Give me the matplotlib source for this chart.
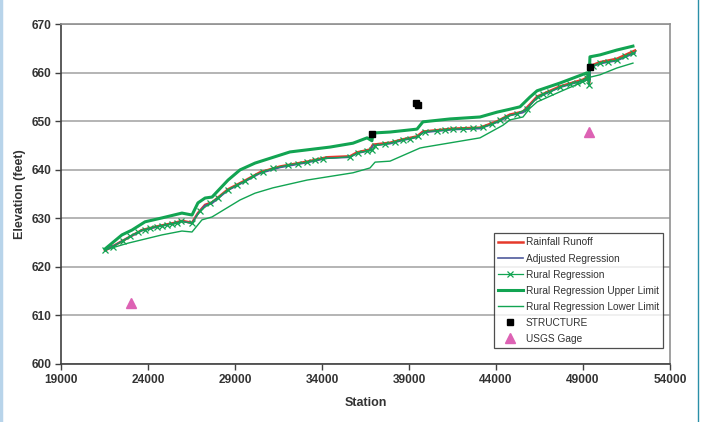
import matplotlib
matplotlib.use("Agg")
import matplotlib.pyplot as plt
from matplotlib.lines import Line2D

plt.rcParams['font.family'] = ['Liberation Sans', 'DejaVu Sans']

# ---- data ----
main_station = [21530, 22100, 22850, 23650, 24575, 25550, 25950, 26530, 26870, 27280,
                27680, 28600, 29575, 30440, 31590, 33140, 34290, 35610, 36010, 36760,
                36930, 37910, 38655, 39460, 39800, 41530, 43080, 44060, 44800, 45550,
                45950, 46360, 47680, 49000, 49290, 49350, 49400, 49980, 50950, 51990]
rainfall_elev = [623.4, 624.5, 626.0, 627.6, 628.4, 629.1, 629.5, 629.1, 631.1, 632.8,
                 633.3, 636.0, 637.8, 639.5, 640.7, 641.7, 642.6, 642.8, 643.6, 644.2,
                 645.2, 645.6, 646.3, 646.9, 647.9, 648.5, 648.7, 650.0, 651.4, 652.0,
                 653.5, 655.1, 657.2, 658.6, 659.2, 657.8, 661.4, 662.2, 662.9, 664.6]
adjusted_elev = [623.4, 624.5, 626.0, 627.5, 628.3, 629.0, 629.4, 629.0, 631.0, 632.7,
                 633.1, 635.8, 637.6, 639.3, 640.5, 641.5, 642.4, 642.6, 643.4, 644.0,
                 645.0, 645.4, 646.1, 646.7, 647.7, 648.3, 648.5, 649.8, 651.2, 651.8,
                 653.3, 654.9, 657.0, 658.4, 659.0, 657.6, 661.1, 661.9, 662.5, 664.1]

rural_station = [21530, 21990, 22560, 22970, 23430, 23830, 24110, 24520, 24800, 25090,
                 25380, 25670, 25900, 26530, 26990, 27560, 28020, 28600, 29110, 29575,
                 30030, 30610, 31180, 32050, 32620, 33140, 33600, 34060, 35610, 36070,
                 36590, 36870, 37050, 37620, 38200, 38655, 39060, 39520, 39920, 40610,
                 41070, 41530, 42100, 42680, 43250, 43770, 44230, 44630, 45210, 45780,
                 46410, 46700, 47100, 47680, 48250, 48650, 48940, 49230, 49350, 49400,
                 49570, 49980, 50440, 50950, 51410, 51870]
rural_elev = [623.4, 624.2, 625.4, 626.3, 627.2, 627.7, 628.0, 628.3, 628.5, 628.7,
              628.8, 629.0, 629.4, 629.0, 631.5, 633.1, 634.3, 635.9, 636.9, 637.7,
              638.7, 639.6, 640.3, 641.0, 641.3, 641.6, 642.0, 642.3, 642.7, 643.5,
              643.9, 644.0, 645.0, 645.3, 645.8, 646.2, 646.4, 646.9, 647.9, 648.1,
              648.2, 648.4, 648.5, 648.6, 648.8, 649.4, 650.3, 651.0, 651.6, 652.6,
              655.1, 655.6, 656.1, 657.1, 657.7, 658.0, 658.4, 659.0, 657.5, 661.2,
              661.4, 662.0, 662.3, 662.6, 663.4, 664.1]

upper_station = [21530, 22500, 23080, 23830, 24800, 25950, 26530, 26870, 27280, 27680,
                 28600, 29290, 30150, 32160, 34460, 35780, 36590, 36870, 36930, 37910,
                 39460, 39800, 41360, 43080, 44060, 44800, 45380, 45950, 46360, 47680,
                 49230, 49350, 49400, 49980, 50950, 51870]
upper_elev = [623.7, 626.6, 627.6, 629.3, 630.1, 631.1, 630.7, 633.2, 634.2, 634.4,
              637.9, 640.0, 641.4, 643.7, 644.7, 645.5, 646.6, 646.0, 647.6, 647.8,
              648.4, 649.9, 650.5, 650.9, 651.9, 652.5, 653.0, 655.0, 656.3, 657.9,
              660.0, 658.5, 663.3, 663.7, 664.7, 665.5]

lower_station = [21530, 22850, 24800, 25950, 26530, 27100, 27680, 29290, 30150, 31180,
                 33140, 35780, 36760, 37050, 37910, 39630, 39920, 43080, 44400, 44800,
                 45550, 45950, 46360, 47680, 49230, 49400, 49980, 50950, 51870]
lower_elev = [623.5, 624.9, 626.6, 627.4, 627.2, 629.7, 630.3, 633.8, 635.2, 636.3,
              637.9, 639.4, 640.4, 641.6, 641.8, 644.5, 644.7, 646.6, 649.2, 650.3,
              650.9, 652.7, 654.0, 656.1, 658.5, 659.1, 659.6, 661.0, 662.0]

structure_station = [36900, 39410, 39530, 49400]
structure_elev = [647.4, 653.8, 653.4, 661.3]

gage_station = [23000, 49350]
gage_elev = [612.6, 647.8]

x_ticks = [19000, 24000, 29000, 34000, 39000, 44000, 49000, 54000]
y_ticks = [600, 610, 620, 630, 640, 650, 660, 670]

# ---- styles ----
GREEN = '#12a452'
RED = '#e5392b'
BLUE = '#4f5a9c'
PINK = '#dd62b4'

fig = plt.figure(figsize=(7.02, 4.22), dpi=100)
ax = fig.add_axes([61/702, 1 - 364/422, (670-61)/702, (364-24.3)/422])

ax.plot(main_station, rainfall_elev, color=RED, lw=1.8, label='Rainfall Runoff', zorder=3)
ax.plot(main_station, adjusted_elev, color=BLUE, lw=1.2, label='Adjusted Regression', zorder=4)
ax.plot(rural_station, rural_elev, color=GREEN, lw=0.9, marker='x', ms=4.5, mew=0.9,
        label='Rural Regression', zorder=5)
ax.plot(upper_station, upper_elev, color=GREEN, lw=2.2, label='Rural Regression Upper Limit', zorder=3)
ax.plot(lower_station, lower_elev, color=GREEN, lw=1.0, label='Rural Regression Lower Limit', zorder=3)
ax.plot(structure_station, structure_elev, ls='none', marker='s', ms=5, color='black',
        label='STRUCTURE', zorder=6)
ax.plot(gage_station, gage_elev, ls='none', marker='^', ms=7, color=PINK, mec=PINK,
        label='USGS Gage', zorder=6)

ax.set_xlim(19000, 54000)
ax.set_ylim(600, 670)
ax.set_xticks(x_ticks)
ax.set_yticks(y_ticks)
ax.set_xticklabels([str(t) for t in x_ticks])
ax.set_yticklabels([str(t) for t in y_ticks])
ax.tick_params(axis='both', labelsize=8.6, length=4, width=1, color='#404040', direction='out',
               pad=3)
for lab in ax.get_xticklabels() + ax.get_yticklabels():
    lab.set_fontweight('bold')
    lab.set_color('#333333')
ax.yaxis.grid(True, color='#a8a8a8', lw=1.2)
ax.set_axisbelow(True)
ax.spines['left'].set_color('#404040')
ax.spines['bottom'].set_color('#404040')
ax.spines['top'].set_color('#909090')
ax.spines['right'].set_color('#909090')
for s in ax.spines.values():
    s.set_linewidth(1.2)

ax.set_xlabel('Station', fontsize=9, fontweight='bold', color='#333333', labelpad=8)
ax.set_ylabel('Elevation (feet)', fontsize=9, fontweight='bold', color='#333333', labelpad=4)

leg = ax.legend(loc='lower right', bbox_to_anchor=((663-61)/609, (364-348)/340),
                fontsize=7.3, frameon=True, fancybox=False, borderpad=0.4,
                labelspacing=0.6, handlelength=2.4, handletextpad=0.3, borderaxespad=0)
leg.get_frame().set_edgecolor('#222222')
leg.get_frame().set_linewidth(0.9)
for t in leg.get_texts():
    t.set_color('#333333')

# figure border lines
fig.add_artist(Line2D([0.002, 0.002], [0, 1], transform=fig.transFigure, color='#b8d4ea', lw=2.5))
fig.add_artist(Line2D([698/702, 698/702], [0, 1], transform=fig.transFigure, color='#2a8fa8', lw=1.0))

fig.savefig('out.png', dpi=100)
